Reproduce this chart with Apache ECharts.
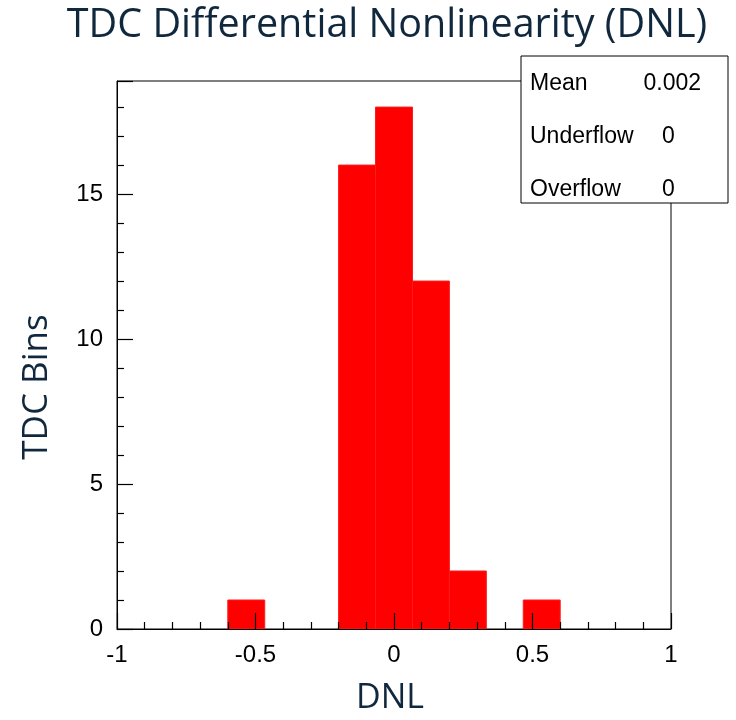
<!DOCTYPE html>
<html>
<head>
<meta charset="utf-8">
<script src="https://cdn.jsdelivr.net/npm/echarts@6/dist/echarts.min.js"></script>
<style>
  html, body { margin: 0; padding: 0; background: #ffffff; overflow: hidden; }
  #chart { width: 736px; height: 720px; }
</style>
</head>
<body>
<div id="chart"></div>
<script>
// Histogram of TDC differential nonlinearity: 15 equal bins on [-1, 1]
const binEdges = [-1, -0.8667, -0.7333, -0.6, -0.4667, -0.3333, -0.2, -0.0667,
                  0.0667, 0.2, 0.3333, 0.4667, 0.6, 0.7333, 0.8667, 1];
const binCounts = [0, 0, 0, 1, 0, 0, 16, 18, 12, 2, 0, 1, 0, 0, 0];

// Statistics box entries
const statNames = ['Mean', 'Underflow', 'Overflow'];
const statValues = ['0.002', '0', '0'];

const xTicks = [-1, -0.5, 0, 0.5, 1];
const yMax = 18.9;

const bars = binCounts.map((c, i) => [binEdges[i], binEdges[i + 1], c]);

const chart = echarts.init(document.getElementById('chart'), null, { width: 736, height: 720 });

const textColor = '#10283d';
const statFont = '"Liberation Sans", Arial, sans-serif';

const statGraphics = [{
  type: 'rect',
  shape: { x: 521, y: 56, width: 207, height: 147 },
  style: { fill: '#ffffff', stroke: '#000000', lineWidth: 1 },
  z: 100
}];
statNames.forEach((name, i) => {
  const y = 84 + i * 53;
  statGraphics.push({
    type: 'text', x: 530, y: y, z: 101,
    style: { text: name, font: '23px ' + statFont, fill: '#000000', verticalAlign: 'middle', textAlign: 'left' }
  });
  statGraphics.push(i === 0 ? {
    type: 'text', x: 701, y: y, z: 101,
    style: { text: statValues[i], font: '23px ' + statFont, fill: '#000000', verticalAlign: 'middle', textAlign: 'right' }
  } : {
    type: 'text', x: 662, y: y, z: 101,
    style: { text: statValues[i], font: '23px ' + statFont, fill: '#000000', verticalAlign: 'middle', textAlign: 'left' }
  });
});

chart.setOption({
  animation: false,
  backgroundColor: '#ffffff',
  title: {
    text: 'TDC Differential Nonlinearity (DNL)',
    left: 382, textAlign: 'center', top: 1,
    textStyle: { fontFamily: '"Open Sans", sans-serif', fontWeight: 'normal', fontSize: 39.5, color: textColor }
  },
  grid: {
    left: 117, right: 65, top: 81, bottom: 85,
    show: true, borderColor: '#000000', borderWidth: 1, backgroundColor: 'transparent'
  },
  xAxis: {
    type: 'value', min: -1, max: 1, interval: 0.5, z: 10,
    name: 'DNL', nameLocation: 'middle', nameGap: 52,
    nameTextStyle: { fontFamily: '"Open Sans", sans-serif', fontSize: 34, color: textColor, padding: [0, 8, 0, 0] },
    axisLine: { show: true, onZero: false, lineStyle: { color: '#000000', width: 1 } },
    axisTick: { show: true, inside: true, length: 16, lineStyle: { color: '#000000', width: 1.2 } },
    minorTick: { show: true, splitNumber: 5, length: 7, lineStyle: { color: '#000000', width: 1.2 } },
    splitLine: { show: false },
    axisLabel: {
      margin: 14, fontSize: 24, color: '#000000', fontFamily: statFont,
      formatter: v => xTicks.indexOf(v) >= 0 ? String(v) : ''
    }
  },
  yAxis: {
    type: 'value', min: 0, max: yMax, interval: 5, z: 10,
    name: 'TDC Bins', nameLocation: 'middle', nameGap: 62,
    nameTextStyle: { fontFamily: '"Open Sans", sans-serif', fontSize: 35, color: textColor, padding: [0, 64, 0, 0] },
    axisLine: { show: true, onZero: false, lineStyle: { color: '#000000', width: 1 } },
    axisTick: { show: true, inside: true, length: 16, lineStyle: { color: '#000000', width: 1.2 } },
    minorTick: { show: true, splitNumber: 5, length: 7, lineStyle: { color: '#000000', width: 1.2 } },
    splitLine: { show: false },
    axisLabel: { margin: 14, fontSize: 24, color: '#000000', fontFamily: statFont, showMaxLabel: false }
  },
  series: [{
    type: 'custom',
    data: bars,
    z: 2,
    renderItem: (params, api) => {
      const x0 = api.value(0), x1 = api.value(1), c = api.value(2);
      if (c <= 0) return null;
      const p0 = api.coord([x0, c]);
      const p1 = api.coord([x1, 0]);
      return {
        type: 'rect',
        shape: { x: p0[0], y: p0[1], width: p1[0] - p0[0], height: p1[1] - p0[1] },
        style: { fill: '#ff0000', stroke: '#ff1a1a', lineWidth: 1 }
      };
    }
  }],
  graphic: statGraphics
});
</script>
</body>
</html>
